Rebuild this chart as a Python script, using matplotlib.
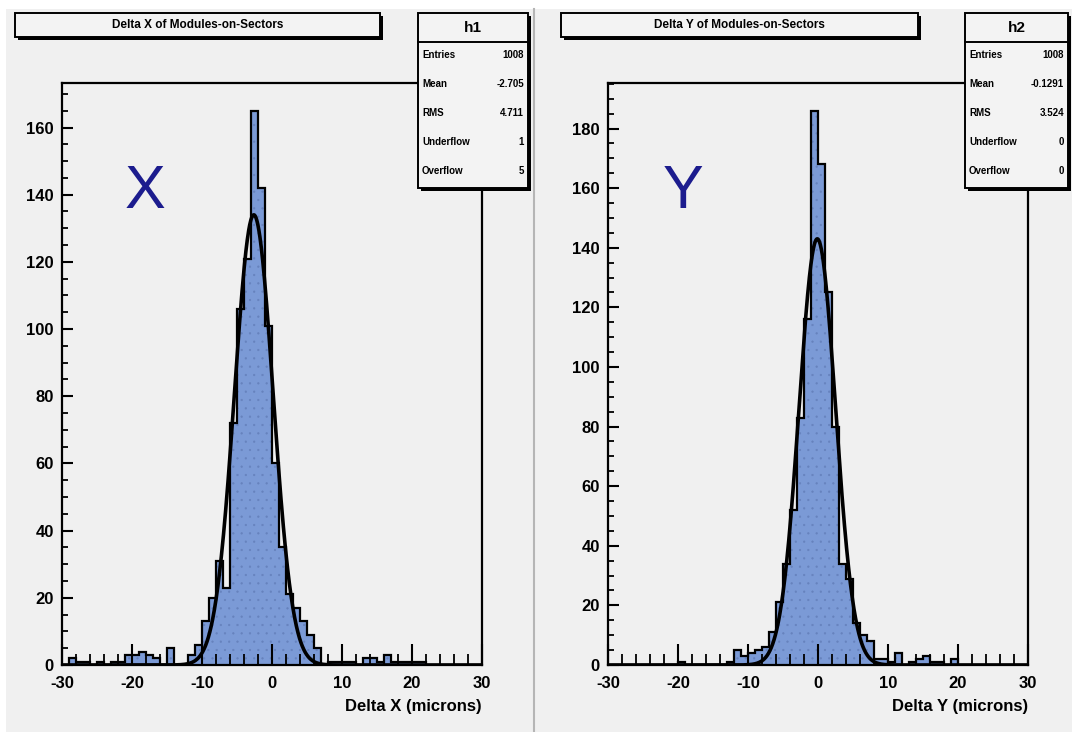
import numpy as np
import matplotlib
matplotlib.use("Agg")
import matplotlib.pyplot as plt
from matplotlib.patches import Rectangle
from matplotlib.ticker import MultipleLocator

# --- data (1 micron bins, -30..30) ---
bin_edges = np.arange(-30, 31, 1)

dx_counts = [0, 2, 1, 1, 0, 1, 0, 1, 1, 3,
             3, 4, 3, 2, 0, 5, 0, 0, 3, 6,
             13, 20, 31, 23, 72, 106, 121, 165, 142, 101,
             60, 35, 21, 17, 13, 9, 5, 0, 1, 1,
             1, 1, 0, 2, 2, 1, 3, 1, 1, 1,
             1, 1, 0, 0, 0, 0, 0, 0, 0, 0]

dy_counts = [0, 0, 0, 0, 0, 0, 0, 0, 0, 0,
             1, 0, 0, 0, 0, 0, 0, 1, 5, 3,
             4, 5, 6, 11, 21, 34, 52, 83, 116, 186,
             168, 125, 80, 34, 29, 14, 10, 8, 2, 2,
             1, 4, 0, 1, 2, 3, 1, 1, 0, 2,
             0, 0, 0, 0, 0, 0, 0, 0, 0, 0]

# gaussian fit parameters (amplitude, mean, sigma)
fit_x = (134.0, -2.6, 2.75)
fit_y = (143.0, -0.1, 2.6)

stats_x = [("Entries", "1008"), ("Mean", "-2.705"), ("RMS", "4.711"),
           ("Underflow", "1"), ("Overflow", "5")]
stats_y = [("Entries", "1008"), ("Mean", "-0.1291"), ("RMS", "3.524"),
           ("Underflow", "0"), ("Overflow", "0")]

W, H = 1072, 732
BG = "#f0f0f0"
FILL = "#7b9ad6"
NAVY = "#1c1c8e"

plt.rcParams["font.family"] = ["Liberation Sans", "DejaVu Sans"]
plt.rcParams["axes.unicode_minus"] = False
plt.rcParams["hatch.color"] = "#6682bd"
plt.rcParams["hatch.linewidth"] = 0.4

fig = plt.figure(figsize=(W / 100, H / 100), dpi=100)
fig.patch.set_facecolor(BG)


def rect(l, t, r, b):
    return [l / W, 1 - b / H, (r - l) / W, (b - t) / H]


# overlay in pixel coords for boxes and text
over = fig.add_axes([0, 0, 1, 1], zorder=10)
over.set_xlim(0, W)
over.set_ylim(H, 0)
over.axis("off")
over.patch.set_alpha(0)

# page edges and pad separator
over.add_patch(Rectangle((0, 0), W, 9, color="white", lw=0))
over.add_patch(Rectangle((0, 0), 6, H, color="white", lw=0))
over.plot([534, 534], [9, H], color="#b5b5b5", lw=1.5)


def box(l, t, r, b, shadow=3):
    over.add_patch(Rectangle((l + shadow, t + shadow), r - l, b - t,
                             facecolor="black", lw=0))
    over.add_patch(Rectangle((l, t), r - l, b - t, facecolor="#f3f3f3",
                             edgecolor="black", lw=1.4))


def panel(frame, counts, fit, ymax, ystep, title, title_box, stats_box,
          hname, stats, xlabel, letter, letter_pos):
    ax = fig.add_axes(rect(*frame))
    ax.set_facecolor(BG)
    ax.stairs(counts, bin_edges, fill=True, facecolor=FILL,
              edgecolor="#6682bd", hatch="..", lw=0)
    ax.stairs(counts, bin_edges, color="black", lw=1.6)
    amp, mu, sig = fit
    xs = np.linspace(-30, 30, 1200)
    ax.plot(xs, amp * np.exp(-0.5 * ((xs - mu) / sig) ** 2),
            color="black", lw=2.6)
    ax.set_xlim(-30, 30)
    ax.set_ylim(0, ymax)
    for s in ax.spines.values():
        s.set_linewidth(1.6)
    ax.xaxis.set_major_locator(MultipleLocator(10))
    ax.xaxis.set_minor_locator(MultipleLocator(2))
    ax.yaxis.set_major_locator(MultipleLocator(ystep))
    ax.yaxis.set_minor_locator(MultipleLocator(ystep / 4))
    ax.tick_params(axis="x", which="major", direction="in", length=15,
                   width=1.5, labelsize=12, pad=8)
    ax.tick_params(axis="x", which="minor", direction="in", length=8,
                   width=1.3)
    ax.tick_params(axis="y", which="major", direction="in", length=8,
                   width=1.5, labelsize=12, pad=6)
    ax.tick_params(axis="y", which="minor", direction="in", length=4,
                   width=1.3)
    for lab in ax.get_xticklabels() + ax.get_yticklabels():
        lab.set_fontweight("bold")
    ax.set_xlabel(xlabel, fontsize=12, fontweight="bold", loc="right",
                  labelpad=6)

    # title box
    l, t, r, b = title_box
    box(l, t, r, b)
    over.text((l + r) / 2, (t + b) / 2, title, ha="center", va="center",
              fontsize=8.5, fontweight="bold")

    # stats box
    l, t, r, b = stats_box
    box(l, t, r, b)
    over.plot([l, r], [t + 29, t + 29], color="black", lw=1.4)
    over.text((l + r) / 2, t + 15, hname, ha="center", va="center",
              fontsize=11, fontweight="bold")
    for i, (name, val) in enumerate(stats):
        yy = t + 42 + i * 29
        over.text(l + 4, yy, name, ha="left", va="center", fontsize=7,
                  fontweight="bold")
        over.text(r - 4, yy, val, ha="right", va="center", fontsize=7,
                  fontweight="bold")

    over.text(letter_pos[0], letter_pos[1], letter, ha="center",
              va="center", fontsize=44, color=NAVY)


panel((62, 83, 482, 665), dx_counts, fit_x, 173.25, 20,
      "Delta X of Modules-on-Sectors", (15, 13, 380, 37),
      (418, 13, 528, 188), "h1", stats_x, "Delta X (microns)",
      "X", (145, 192))

panel((608, 83, 1028, 665), dy_counts, fit_y, 195.3, 20,
      "Delta Y of Modules-on-Sectors", (561, 13, 918, 37),
      (965, 13, 1068, 188), "h2", stats_y, "Delta Y (microns)",
      "Y", (683, 192))

fig.savefig("out.png", dpi=100, facecolor=fig.get_facecolor())
